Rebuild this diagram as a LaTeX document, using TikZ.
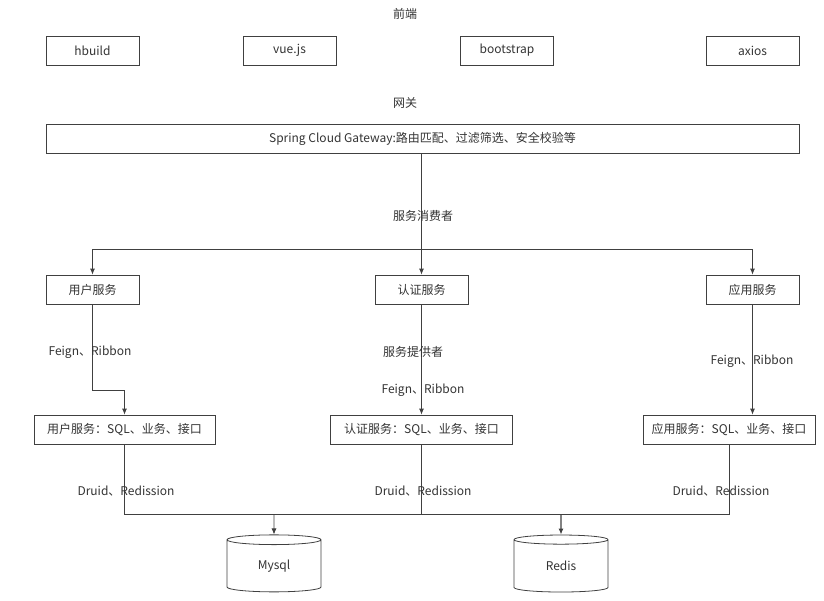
\documentclass[tikz,border=0pt]{standalone}
\usepackage{fontspec}
\setmainfont{Noto Sans CJK SC}
\usetikzlibrary{shapes.geometric,arrows.meta,positioning,calc}

\begin{document}
\begin{tikzpicture}[x=1pt, y=-1pt,
    box/.style={rectangle, draw=black!75, line width=0.8pt, minimum width=93pt, minimum height=29pt, inner sep=0pt, font=\fontsize{12}{14}\selectfont, text=black!80},
    db/.style={cylinder, shape border rotate=90, draw=black!75, line width=0.8pt, minimum width=94pt, minimum height=57pt, aspect=0.3, inner sep=0pt, font=\fontsize{12}{14}\selectfont, text=black!80},
    lbl/.style={inner sep=0pt, font=\fontsize{12}{14}\selectfont, text=black!80},
    line/.style={draw=black!75, line width=0.8pt},
    arrow/.style={line, -{Latex[length=6pt,width=5pt]}}]

\useasboundingbox (0,0) rectangle (824,600);

% Front end row
\node[lbl] (fe) at (405,14) {前端};
\node[box] (hb) at (92.5,50.5) {hbuild};
\node[box] (vue) at (289.5,50.5) {vue.js};
\node[box] (bs) at (507,50.5) {bootstrap};
\node[box] (ax) at (752.5,50.5) {axios};

% Gateway
\node[lbl] (gwl) at (405,103) {网关};
\node[box, minimum width=753pt] (gw) at (422.5,138.5) {Spring Cloud Gateway:路由匹配、过滤筛选、安全校验等};

% Consumers
\node[lbl] (cons) at (423,216) {服务消费者};
\node[box] (us) at (92.5,289.5) {用户服务};
\node[box] (as) at (421.5,289.5) {认证服务};
\node[box] (ps) at (752.5,289.5) {应用服务};

% Providers
\node[box, minimum width=181pt] (usd) at (124.5,429.5) {用户服务：SQL、业务、接口};
\node[box, minimum width=182pt] (asd) at (421.5,429.5) {认证服务：SQL、业务、接口};
\node[box, minimum width=172pt] (psd) at (729,429.5) {应用服务：SQL、业务、接口};

% Storage
\node[db] (my) at (274,566) {Mysql};
\node[db] (rd) at (561,566) {Redis};

% Gateway -> consumers
\coordinate (split) at (421.5,249);
\draw[line] (gw.south -| as) -- (split);
\draw[arrow] (split) -- (as);
\draw[arrow] (split) -| (us);
\draw[arrow] (split) -| (ps);

% Consumers -> providers
\coordinate (ubend) at (92.5,390);
\draw[arrow] (us) -- (ubend) -| (usd);
\draw[arrow] (as) -- (asd);
\draw[arrow] (ps) -- (ps |- psd.north);
\node[lbl] (fr1) at (90,352) {Feign、Ribbon};
\node[lbl] (prov) at (413,352) {服务提供者};
\node[lbl] (fr2) at (423,390) {Feign、Ribbon};
\node[lbl] (fr3) at (752,361) {Feign、Ribbon};

% Providers -> storage
\coordinate (busL) at (124.5,514);
\coordinate (busR) at (729,514);
\draw[line] (usd) -- (busL) -- (busR) -- (psd);
\draw[line] (asd) -- (asd |- busL);
\draw[arrow] (my |- busL) -- (my);
\draw[arrow, line width=1.2pt] (rd |- busL) -- (rd);
\node[lbl] (dr1) at (126,491) {Druid、Redission};
\node[lbl] (dr2) at (423,491) {Druid、Redission};
\node[lbl] (dr3) at (721,491) {Druid、Redission};

\end{tikzpicture}
\end{document}
